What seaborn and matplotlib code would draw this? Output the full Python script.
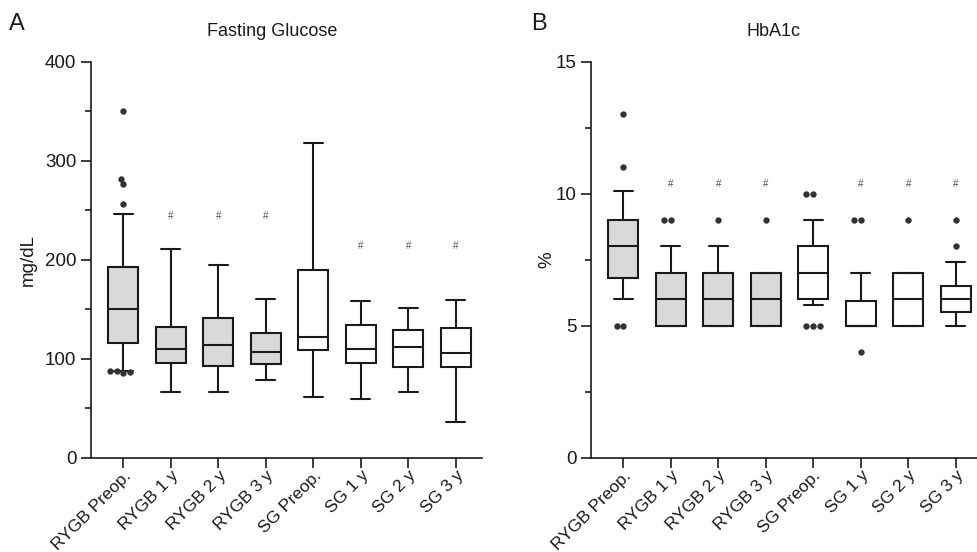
import numpy as np
import pandas as pd
import seaborn as sns
import matplotlib.pyplot as plt
from matplotlib.ticker import MultipleLocator
from matplotlib.transforms import ScaledTranslation

sns.set_theme(style="ticks")
plt.rcParams['font.family'] = ['Liberation Sans', 'DejaVu Sans']

groups = ["RYGB Preop.", "RYGB 1 y", "RYGB 2 y", "RYGB 3 y",
          "SG Preop.", "SG 1 y", "SG 2 y", "SG 3 y"]
box_fill = ["#d9d9d9"] * 4 + ["white"] * 4

# fasting glucose, mg/dL
glu_whislo = [88, 66, 66, 78, 61, 59, 66, 36]
glu_q1 = [116, 96, 93, 95, 108.5, 96, 92, 92]
glu_med = [150, 110, 113.5, 106.5, 121.5, 110, 112, 106]
glu_q3 = [192.5, 132, 141, 125.5, 189.5, 134, 129, 131]
glu_whishi = [246, 211, 195, 160, 318, 158, 151, 159]
glu_out_group = ["RYGB Preop."] * 8
glu_out_value = [350, 282, 276, 256, 86, 88, 86.5, 88]
glu_hash = ["", "#", "#", "#", "", "#", "#", "#"]
glu_hash_y = [0, 244.5, 244.5, 244.5, 0, 214, 214, 214]

# HbA1c, %
hba_whislo = [6.0, 5, 5, 5, 5.8, 5, 5, 5]
hba_q1 = [6.8, 5, 5, 5, 6.0, 5, 5, 5.5]
hba_med = [8.0, 6, 6, 6, 7.0, 5, 6, 6]
hba_q3 = [9.0, 7, 7, 7, 8.0, 5.95, 7, 6.5]
hba_whishi = [10.1, 8, 8, 7, 9.0, 7, 7, 7.4]
hba_out_group = ["RYGB Preop."] * 4 + ["RYGB 1 y"] * 2 + ["RYGB 2 y", "RYGB 3 y"] \
    + ["SG Preop."] * 5 + ["SG 1 y"] * 3 + ["SG 2 y"] + ["SG 3 y"] * 2
hba_out_value = [13, 11, 5, 5, 9, 9, 9, 9, 10, 10, 5, 5, 5, 9, 9, 4, 9, 9, 8]
hba_hash = ["", "#", "#", "#", "", "#", "#", "#"]
hba_hash_y = [10.37] * 8

ink = "#1a1a1a"


def draw_panel(ax, whislo, q1, med, q3, whishi, out_group, out_value,
               hashes, hash_y, ymax, major, minor, ylabel, labelpad):
    stats = []
    for i in range(len(groups)):
        stats.append(dict(whislo=whislo[i], q1=q1[i], med=med[i],
                          q3=q3[i], whishi=whishi[i], fliers=[]))
    lw = 1.5
    bp = ax.bxp(stats, positions=range(len(groups)), widths=0.63, capwidths=0.4,
                showfliers=False, patch_artist=True, manage_ticks=False,
                boxprops=dict(edgecolor=ink, linewidth=lw),
                medianprops=dict(color=ink, linewidth=lw),
                whiskerprops=dict(color=ink, linewidth=lw),
                capprops=dict(color=ink, linewidth=lw))
    for patch, fc in zip(bp['boxes'], box_fill):
        patch.set_facecolor(fc)

    outliers = pd.DataFrame({"group": out_group, "value": out_value})
    sns.swarmplot(data=outliers, x="group", y="value", order=groups,
                  color="#333333", size=4.6, ax=ax, zorder=3)

    for i, h in enumerate(hashes):
        if h:
            ax.text(i, hash_y[i], h, ha='center', va='center',
                    fontsize=7, color="#555555")

    ax.set_ylim(0, ymax)
    ax.yaxis.set_major_locator(MultipleLocator(major))
    ax.yaxis.set_minor_locator(MultipleLocator(minor))
    ax.set_xticks(range(len(groups)))
    ax.set_xticklabels(groups, rotation=45, ha='right', va='top',
                       rotation_mode='anchor', fontsize=12.5, color=ink)
    # nudge the slanted labels a little to the right, like the original
    shift = ScaledTranslation(4 / 100, 0, ax.figure.dpi_scale_trans)
    for lab in ax.get_xticklabels():
        lab.set_transform(lab.get_transform() + shift)
    ax.tick_params(axis='y', labelsize=13.5, labelcolor=ink)
    ax.tick_params(axis='x', pad=0.5)
    ax.tick_params(which='major', length=7, width=1.2, color=ink, direction='out')
    ax.tick_params(which='minor', length=4, width=1.2, color=ink, direction='out')
    ax.set_xlabel("")
    ax.set_ylabel(ylabel, fontsize=13.5, color=ink, labelpad=labelpad)
    sns.despine(ax=ax)
    for s in ['left', 'bottom']:
        ax.spines[s].set_linewidth(1.2)
        ax.spines[s].set_color(ink)


fig = plt.figure(figsize=(9.77, 5.52), dpi=100)
axA = fig.add_axes([91 / 977, 1 - 457.7 / 552, 391 / 977, 396 / 552])
axB = fig.add_axes([591 / 977, 1 - 457.7 / 552, 386 / 977, 396 / 552])

draw_panel(axA, glu_whislo, glu_q1, glu_med, glu_q3, glu_whishi,
           glu_out_group, glu_out_value, glu_hash, glu_hash_y,
           400, 100, 50, "mg/dL", 6)
axA.set_xlim(-0.68, 7.55)

draw_panel(axB, hba_whislo, hba_q1, hba_med, hba_q3, hba_whishi,
           hba_out_group, hba_out_value, hba_hash, hba_hash_y,
           15, 5, 2.5, "%", 0)
axB.set_xlim(-0.68, 7.45)

fig.text(272 / 977, 1 - 31 / 552, "Fasting Glucose", ha='center', va='center',
         fontsize=13, color=ink)
fig.text(773.5 / 977, 1 - 31 / 552, "HbA1c", ha='center', va='center',
         fontsize=13, color=ink)
fig.text(9 / 977, 1 - 24 / 552, "A", ha='left', va='center', fontsize=17, color=ink)
fig.text(531 / 977, 1 - 24 / 552, "B", ha='left', va='center', fontsize=17, color=ink)

fig.savefig("out.png", dpi=100)
